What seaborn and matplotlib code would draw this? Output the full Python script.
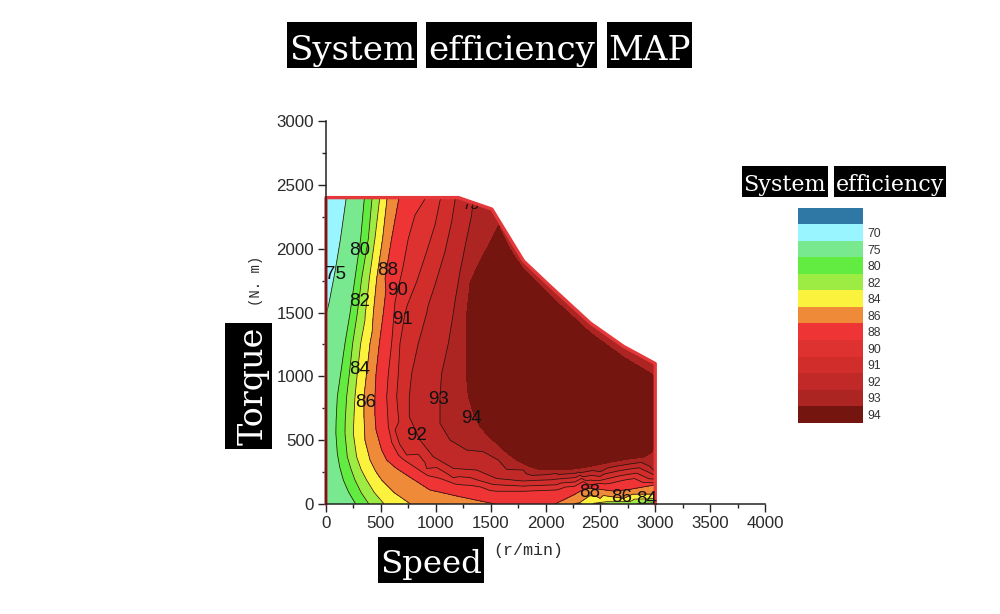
import numpy as np
import matplotlib
matplotlib.use("Agg")
import matplotlib.pyplot as plt
from matplotlib.colors import ListedColormap
from matplotlib.patches import Polygon, Rectangle
from matplotlib.ticker import MultipleLocator
from matplotlib.tri import Triangulation
import seaborn as sns

# Iso-efficiency curves: (speed r/min, torque N.m)
s75 = [185, 128, 82, 30, 0]
t75 = [2400, 2054, 1819, 1584, 1480]
s80 = [350, 316, 264, 219, 173, 134, 103, 92, 90, 103, 125, 158, 205, 270]
t80 = [2400, 2080, 1767, 1493, 1258, 1023, 840, 650, 553, 397, 290, 188, 95, 0]
s82 = [420, 386, 325, 285, 243, 213, 188, 175, 173, 194, 225, 264, 320, 390]
t82 = [2400, 2080, 1767, 1493, 1258, 1023, 840, 650, 553, 370, 280, 188, 90, 0]
s84 = [490, 446, 395, 355, 316, 285, 264, 255, 249, 279, 320, 370, 440, 530]
t84 = [2400, 2080, 1767, 1440, 1258, 1023, 840, 684, 553, 370, 270, 188, 90, 0]
s86 = [557, 516, 462, 431, 401, 370, 346, 346, 355, 401, 450, 507, 620, 770]
t86 = [2400, 2080, 1767, 1493, 1258, 1023, 840, 684, 501, 344, 260, 188, 90, 0]
s88 = [665, 598, 538, 522, 486, 456, 446, 446, 456, 507, 553, 640, 735, 947, 1221, 1494, 1540]
t88 = [2400, 2080, 1767, 1493, 1258, 1023, 840, 700, 579, 423, 344, 280, 227, 110, 57, 18, 0]
s90 = [910, 811, 750, 699, 629, 620, 598, 568, 553, 568, 600, 659, 826, 1039, 1251, 1494, 1798, 2101, 2400, 3000]
t90 = [2400, 2263, 2080, 1845, 1584, 1493, 1258, 1023, 840, 605, 480, 384, 279, 201, 149, 105, 100, 110, 150, 165]
s91 = [1045, 993, 917, 826, 741, 720, 674, 659, 644, 629, 670, 735, 917, 1160, 1373, 1570, 1798, 2101, 2497, 3000]
t91 = [2400, 2185, 1976, 1741, 1558, 1493, 1258, 1023, 840, 579, 470, 384, 279, 205, 190, 150, 140, 150, 185, 195]
s92 = [1180, 1145, 1084, 993, 932, 917, 841, 781, 759, 759, 856, 978, 1160, 1373, 1555, 1798, 2101, 2497, 3000]
t92 = [2400, 2211, 1976, 1715, 1558, 1493, 1258, 1023, 840, 684, 501, 370, 279, 266, 200, 180, 195, 215, 225]
s93 = [1342, 1327, 1282, 1221, 1175, 1160, 1115, 1054, 1039, 1039, 1130, 1282, 1433, 1570, 1798, 2101, 2497, 3000]
t93 = [2400, 2263, 2080, 1819, 1584, 1493, 1258, 1023, 840, 632, 501, 423, 410, 344, 266, 240, 253, 253]
s94 = [1572, 1470, 1374, 1313, 1283, 1277, 1280, 1298, 1345, 1404, 1480, 1556, 1650, 1739, 1850, 1952, 2120,
       2286, 2440, 2590, 2740, 2894, 2960, 3000,
       3000, 2856, 2712, 2560, 2408, 2225, 2043, 1920, 1800, 1700, 1620]
t94 = [2179, 2010, 1851, 1733, 1496, 1155, 1000, 840, 710, 604, 535, 472, 400, 341, 295, 268, 268,
       276, 300, 328, 350, 368, 400, 450,
       1000, 1075, 1150, 1245, 1340, 1485, 1630, 1735, 1840, 1960, 2090]

# Remaining read points: corners, the outer edge, the dark plateau
edge_speed = [0, 0, 1207, 1511, 1800, 2043, 2408, 2712, 3000, 1800, 3000]
edge_torq = [2400, 0, 2400, 2310, 1903, 1706, 1417, 1234, 1100, 0, 0]
edge_eff = [72, 77, 92.2, 93.5, 93.5, 93.5, 93.5, 93.5, 93.5, 89, 81]
plateau_speed = [1560, 1500, 1500, 1800, 2100, 2400, 2000, 1600, 2000, 2400, 2800, 2700, 1800]
plateau_torq = [1950, 1700, 1200, 1600, 1300, 1100, 1000, 800, 500, 550, 600, 850, 600]
plateau_eff = [95] * len(plateau_speed)
right_speed = [2830, 3000, 2436, 2557, 2770, 3000, 2310, 2497, 2712, 3000,
               2086, 2253, 2370, 2497, 2770, 3000]
right_torq = [0, 10, 5, 18, 18, 44, 10, 44, 44, 78, 0, 70, 125, 115, 115, 150]
right_eff = [82, 82, 84, 84, 84, 84, 86, 86, 86, 86, 88, 88, 88, 88, 88, 88]

envelope_speed = [0, 1207, 1511, 1800, 2043, 2408, 2712, 3000, 3000, 0]
envelope_torque = [2400, 2400, 2310, 1903, 1706, 1417, 1234, 1100, 0, 0]

levels = [60, 70, 75, 80, 82, 84, 86, 88, 90, 91, 92, 93, 94, 100]
band_colors = ['#2f77a5', '#99f5ff', '#78e98e', '#62ec42', '#9cec44', '#fbf23e', '#ee8a38',
               '#ee3434', '#de3230', '#d12d2b', '#c02927', '#ad2522', '#74160f']
legend_labels = ['', '70', '75', '80', '82', '84', '86', '88', '90', '91', '92', '93', '94']

label_text = ['75', '80', '82', '84', '86', '88', '90', '91', '93', '94', '92', '88', '86', '84']
label_speed = [91, 304, 304, 304, 359, 559, 651, 699, 1024, 1325, 821, 2402, 2696, 2918]
label_torque = [1798, 1982, 1588, 1050, 793, 1830, 1675, 1449, 819, 669, 533, 92, 52, 39]

curves = [(75, s75, t75), (80, s80, t80), (82, s82, t82), (84, s84, t84), (86, s86, t86),
          (88, s88, t88), (90, s90, t90), (91, s91, t91), (92, s92, t92), (93, s93, t93),
          (94, s94, t94)]

sns.set_theme(style='ticks')
plt.rcParams['font.family'] = ['Liberation Sans', 'DejaVu Sans']

fig = plt.figure(figsize=(10, 6.14), dpi=100)
W, H = 1000, 614


def px_axes(x0, y0, x1, y1):
    return fig.add_axes([x0 / W, 1 - y1 / H, (x1 - x0) / W, (y1 - y0) / H])


ax = px_axes(326, 121, 765, 504)

xs = np.array(sum([c[1] for c in curves], []) + edge_speed + plateau_speed + right_speed, float)
ys = np.array(sum([c[2] for c in curves], []) + edge_torq + plateau_torq + right_torq, float)
zs = np.array(sum([[c[0]] * len(c[1]) for c in curves], []) + edge_eff + plateau_eff + right_eff, float)
# remove exact duplicate positions, which a triangulation cannot take
_, keep = np.unique(np.c_[xs, ys], axis=0, return_index=True)
tri = Triangulation(xs[keep], ys[keep])
z = zs[keep]
lv = np.array(levels, float) - 0.001

clip = Polygon(np.c_[envelope_speed, envelope_torque], closed=True, transform=ax.transData,
               fc='none', ec='none')
ax.add_patch(clip)
filled = ax.tricontourf(tri, z, levels=lv, colors=band_colors)
filled.set_clip_path(clip)
lines = ax.tricontour(tri, z, levels=lv[2:-2], colors='#2a1410', linewidths=0.55)
lines.set_clip_path(clip)

ax.plot([envelope_speed[-1]] + envelope_speed[:-1], [envelope_torque[-1]] + envelope_torque[:-1],
        color='#e5383b', lw=2.4, clip_on=False, zorder=3, solid_joinstyle='round')

for t, x, y in zip(label_text, label_speed, label_torque):
    ax.text(x, y, t, ha='center', va='center', fontsize=13.5, color='#111111', zorder=5)
frag = ax.text(1320, 2345, '75', ha='center', va='center', fontsize=11, color='#111111', zorder=2.5)
frag.set_clip_on(True)
frag.set_clip_path(Rectangle((1200, 2290), 300, 60, transform=ax.transData))

ax.set_xlim(0, 4000)
ax.set_ylim(0, 3000)
ax.xaxis.set_major_locator(MultipleLocator(500))
ax.xaxis.set_minor_locator(MultipleLocator(250))
ax.yaxis.set_major_locator(MultipleLocator(500))
ax.yaxis.set_minor_locator(MultipleLocator(250))
ax.tick_params(which='major', length=5.5, width=1.0, color='#222222', labelsize=12.2,
               labelcolor='#2a2a2a', pad=3)
ax.tick_params(which='minor', length=3, width=1.0, color='#222222')
sns.despine(ax=ax)
for sp in ('left', 'bottom'):
    ax.spines[sp].set_linewidth(1.1)
    ax.spines[sp].set_color('#222222')
    ax.spines[sp].set_zorder(6)

# colour key, drawn as a seaborn heatmap
lax = px_axes(798, 207.7, 863, 422.7)
sns.heatmap(np.arange(len(band_colors)).reshape(-1, 1), ax=lax, cmap=ListedColormap(band_colors),
            cbar=False, xticklabels=False, yticklabels=legend_labels)
lax.yaxis.tick_right()
lax.tick_params(axis='y', length=0, labelsize=8.7, labelcolor='#333333', pad=3.5, labelrotation=0)


def black_word(text, x0, y0, x1, y1, size, base, rotation=0):
    fig.add_artist(Rectangle((x0 / W, 1 - y1 / H), (x1 - x0) / W, (y1 - y0) / H,
                             transform=fig.transFigure, fc='black', ec='none', zorder=8))
    if rotation:
        px, py = base, (y0 + y1) / 2
    else:
        px, py = (x0 + x1) / 2, base
    fig.text(px / W, 1 - py / H, text, color='white', ha='center', va='baseline',
             rotation=rotation, rotation_mode='anchor', family='DejaVu Serif', fontsize=size, zorder=9)


black_word('System', 287, 22.3, 417, 68.3, 24.5, 60)
black_word('efficiency', 426, 22.3, 597, 68.3, 24.5, 60)
black_word('MAP', 606.7, 22.3, 692, 68.3, 24.5, 60)
black_word('System', 741.7, 166, 827.7, 196.7, 16, 191.5)
black_word('efficiency', 834, 166, 946, 196.7, 16, 191.5)
black_word('Torque', 225, 323, 271.7, 449, 24, 263, rotation=90)
black_word('Speed', 378, 536.7, 484, 582.7, 23.3, 573)

fig.text(528 / W, 1 - 551 / H, '(r/min)', ha='center', va='center', family='Liberation Mono',
         fontsize=12, color='#2a2a2a')
fig.text(256 / W, 1 - 281 / H, '(N. m)', ha='center', va='center', rotation=90,
         family='Liberation Mono', fontsize=10, color='#2a2a2a')

fig.savefig('out.png', dpi=100)
